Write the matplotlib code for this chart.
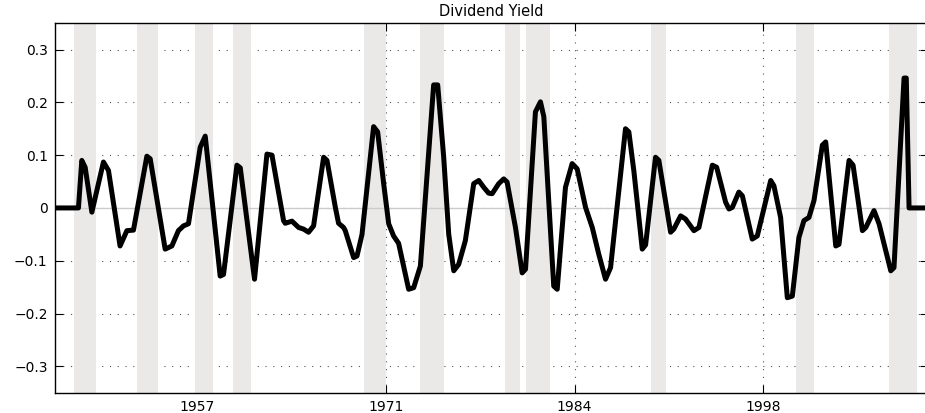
import numpy as np
import matplotlib
matplotlib.use("Agg")
import matplotlib.pyplot as plt

# filtered dividend yield (x in years)
years = [1947.30, 1948.97, 1949.21, 1949.45, 1949.93, 1950.76, 1951.12, 1951.95,
         1952.44, 1952.91, 1953.87, 1954.11, 1955.18, 1955.66, 1956.13, 1956.49,
         1956.85, 1957.69, 1958.05, 1959.12, 1959.36, 1960.32, 1960.56, 1961.58,
         1962.47, 1962.83, 1963.66, 1963.78, 1964.26, 1964.74, 1965.09, 1965.45,
         1965.81, 1966.53, 1966.77, 1967.37, 1967.60, 1967.96, 1968.08, 1968.68,
         1968.92, 1969.28, 1970.11, 1970.40, 1970.83, 1971.19, 1971.54, 1971.90,
         1972.62, 1972.98, 1973.46, 1974.41, 1974.70, 1975.13, 1975.49, 1975.85,
         1976.20, 1976.68, 1977.28, 1977.64, 1978.00, 1978.35, 1978.60, 1979.07,
         1979.43, 1979.67, 1980.27, 1980.75, 1980.99, 1981.70, 1982.06, 1982.30,
         1983.01, 1983.26, 1983.85, 1984.33, 1984.69, 1985.29, 1985.77, 1986.24,
         1986.72, 1987.08, 1988.15, 1988.39, 1988.75, 1989.35, 1989.59, 1990.30,
         1990.54, 1991.38, 1991.61, 1992.10, 1992.45, 1993.05, 1993.41, 1994.37,
         1994.68, 1995.32, 1995.56, 1995.80, 1996.27, 1996.52, 1997.23, 1997.59,
         1998.55, 1998.78, 1999.26, 1999.74, 2000.10, 2000.57, 2000.93, 2001.29,
         2001.65, 2002.25, 2002.49, 2003.21, 2003.44, 2004.16, 2004.45, 2005.12,
         2005.36, 2005.95, 2006.31, 2007.15, 2007.38, 2008.10, 2008.26, 2008.46,
         2009.80]
dy = [0.0, 0.0, 0.090, 0.077, -0.008, 0.087, 0.071, -0.072,
      -0.043, -0.042, 0.098, 0.093, -0.078, -0.072, -0.043, -0.034,
      -0.030, 0.115, 0.136, -0.129, -0.126, 0.081, 0.076, -0.135,
      0.102, 0.100, -0.024, -0.029, -0.025, -0.037, -0.040, -0.046,
      -0.034, 0.096, 0.090, 0.001, -0.029, -0.037, -0.043, -0.094,
      -0.091, -0.050, 0.154, 0.144, 0.046, -0.030, -0.053, -0.067,
      -0.154, -0.151, -0.110, 0.233, 0.233, 0.096, -0.050, -0.119,
      -0.107, -0.062, 0.046, 0.052, 0.039, 0.028, 0.027, 0.046,
      0.055, 0.049, -0.037, -0.123, -0.116, 0.182, 0.201, 0.173,
      -0.148, -0.154, 0.039, 0.084, 0.074, 0.001, -0.037, -0.088,
      -0.135, -0.113, 0.150, 0.144, 0.070, -0.078, -0.070, 0.096,
      0.090, -0.046, -0.040, -0.015, -0.021, -0.043, -0.037, 0.081,
      0.077, 0.011, -0.002, 0.001, 0.030, 0.023, -0.059, -0.053,
      0.052, 0.042, -0.018, -0.170, -0.167, -0.056, -0.024, -0.018,
      0.014, 0.119, 0.125, -0.072, -0.069, 0.090, 0.081, -0.043,
      -0.037, -0.005, -0.030, -0.119, -0.113, 0.246, 0.246, 0.0,
      0.0]

# recession bands (start, end)
rec_start = [1948.68, 1953.17, 1957.33, 1960.03, 1969.42, 1973.41,
             1979.55, 1981.05, 1989.98, 2000.38, 2007.02]
rec_end = [1950.24, 1954.68, 1958.64, 1961.32, 1971.00, 1975.16,
           1980.60, 1982.77, 1991.03, 2001.65, 2009.03]

xticks = [1957.5, 1971.0, 1984.5, 1998.0]
xlabels = ["1957", "1971", "1984", "1998"]
yticks = [-0.3, -0.2, -0.1, 0, 0.1, 0.2, 0.3]
ylabels = ["\u22120.3", "\u22120.2", "\u22120.1", "0", "0.1", "0.2", "0.3"]

plt.rcParams['font.family'] = ['DejaVu Sans']

fig = plt.figure(figsize=(9.25, 4.13), dpi=100)
ax = fig.add_axes([0.059, 0.049, 0.944, 0.895])

for s, e in zip(rec_start, rec_end):
  ax.axvspan(s, e, color='#ebe8e8', lw=0, zorder=2)

ax.axhline(0, color='#cccccc', lw=1.0, zorder=2.5)
ax.plot(years, dy, color='black', lw=3.6, zorder=3, solid_joinstyle='round')

ax.set_xlim(1947.26, 2009.80)
ax.set_ylim(-0.35, 0.35)
ax.set_xticks(xticks)
ax.set_xticklabels(xlabels, fontsize=10)
ax.set_yticks(yticks)
ax.set_yticklabels(ylabels, fontsize=10)
ax.tick_params(direction='in', length=6, width=0.8, top=True, right=True, pad=5)
ax.grid(True, color='#555555', linestyle=(0, (1, 6)), lw=0.8, zorder=1)
ax.set_axisbelow(True)
for sp in ax.spines.values():
  sp.set_linewidth(1.0)
  sp.set_zorder(4)
ax.set_title("Dividend Yield", fontsize=10.5, pad=5)

fig.savefig("out.png", dpi=100)
